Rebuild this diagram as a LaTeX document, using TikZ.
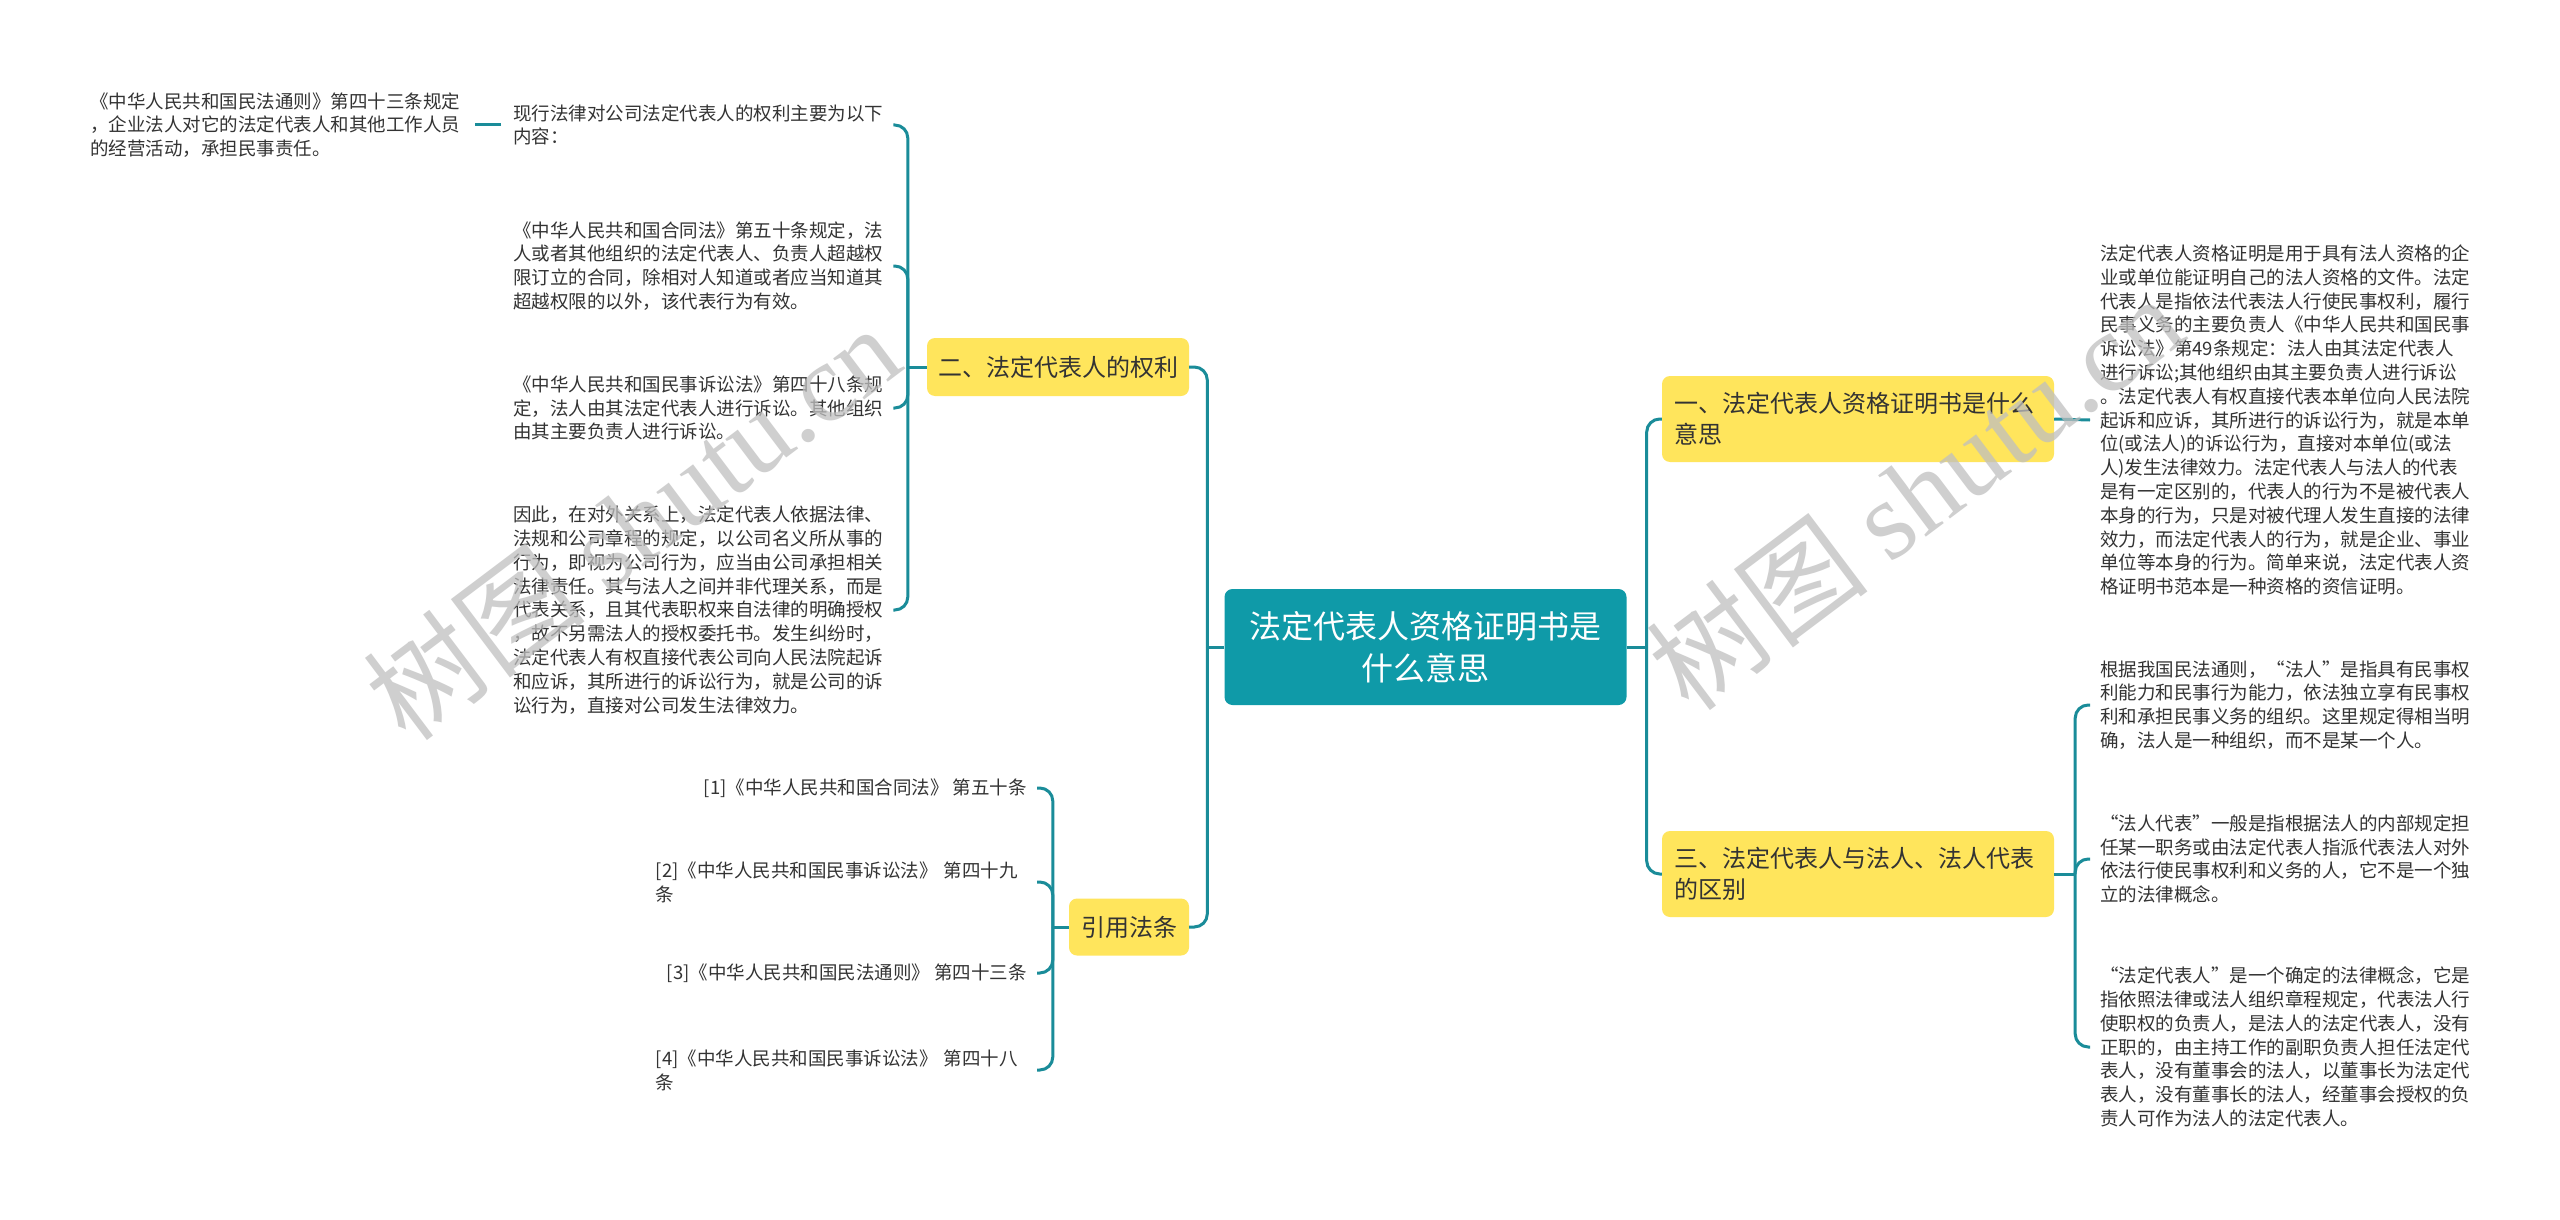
\documentclass[tikz,border=0pt]{standalone}
\usepackage{fontspec}
\setmainfont{Noto Sans CJK SC}
\newfontfamily\wmlatin{Liberation Serif}
\definecolor{rootc}{HTML}{0F9AA8}
\definecolor{lnc}{HTML}{1A8C99}
\definecolor{ylw}{HTML}{FFE55C}
\definecolor{txt}{HTML}{333333}
\definecolor{wmc}{HTML}{BFBFBF}
\tikzset{
  leaf/.style={font=\fontsize{18.5}{23.8}\selectfont, text=txt, align=left, inner sep=0pt},
  wideleaf/.style={leaf, text width=375pt},
  ybox/.style={fill=ylw, rounded corners=8pt, font=\fontsize{24}{31}\selectfont, text=txt, inner sep=0pt},
  rootbox/.style={fill=rootc, rounded corners=8pt, font=\fontsize{32}{42}\selectfont, text=white, align=center, inner sep=0pt, minimum width=402pt, minimum height=116pt},
  conn/.style={draw=lnc, line width=3pt, rounded corners=13pt},
  wm/.style={text=wmc, opacity=0.75, inner sep=0pt}
}
\begin{document}
\begin{tikzpicture}[x=1pt,y=-1pt]
\fill[white] (0,0) rectangle (2560,1220);
\useasboundingbox (0,0) rectangle (2560,1220);

% central and main boxes
\node[rootbox] (root) at (1425.5,647) {法定代表人资格证明书是\\什么意思};
\node[ybox, minimum width=392pt, minimum height=86pt, text width=368pt, align=left] (b1) at (1858,419) {一、法定代表人资格证明书是什么\\意思};
\node[ybox, minimum width=392pt, minimum height=86pt, text width=368pt, align=left] (b3) at (1858,874) {三、法定代表人与法人、法人代表\\的区别};
\node[ybox, minimum width=262pt, minimum height=58pt] (b2) at (1058,367) {二、法定代表人的权利};
\node[ybox, minimum width=120pt, minimum height=57pt] (b4) at (1129,927) {引用法条};

% left leaves of b2
\node[wideleaf, anchor=west] (gc) at (90,125) {《中华人民共和国民法通则》第四十三条规定\\，企业法人对它的法定代表人和其他工作人员\\的经营活动，承担民事责任。};
\node[wideleaf, anchor=west] (l1) at (513,125) {现行法律对公司法定代表人的权利主要为以下\\内容：};
\node[wideleaf, anchor=west] (l2) at (513,266) {《中华人民共和国合同法》第五十条规定，法\\人或者其他组织的法定代表人、负责人超越权\\限订立的合同，除相对人知道或者应当知道其\\超越权限的以外，该代表行为有效。};
\node[wideleaf, anchor=west] (l3) at (513,408) {《中华人民共和国民事诉讼法》第四十八条规\\定，法人由其法定代表人进行诉讼。其他组织\\由其主要负责人进行诉讼。};
\node[wideleaf, anchor=west] (l4) at (513,610) {因此，在对外关系上，法定代表人依据法律、\\法规和公司章程的规定，以公司名义所从事的\\行为，即视为公司行为，应当由公司承担相关\\法律责任。其与法人之间并非代理关系，而是\\代表关系，且其代表职权来自法律的明确授权\\，故不另需法人的授权委托书。发生纠纷时，\\法定代表人有权直接代表公司向人民法院起诉\\和应诉，其所进行的诉讼行为，就是公司的诉\\讼行为，直接对公司发生法律效力。};

% references of b4
\node[leaf, anchor=east] (r1) at (1027,788) {[1]《中华人民共和国合同法》 第五十条};
\node[leaf, text width=371pt, anchor=east] (r2) at (1027,882) {[2]《中华人民共和国民事诉讼法》 第四十九\\条};
\node[leaf, anchor=east] (r3) at (1027,973) {[3]《中华人民共和国民法通则》 第四十三条};
\node[leaf, text width=371pt, anchor=east] (r4) at (1027,1070) {[4]《中华人民共和国民事诉讼法》 第四十八\\条};

% right leaves
\node[wideleaf, anchor=west] (t1) at (2100,420) {法定代表人资格证明是用于具有法人资格的企\\业或单位能证明自己的法人资格的文件。法定\\代表人是指依法代表法人行使民事权利，履行\\民事义务的主要负责人《中华人民共和国民事\\诉讼法》第49条规定：法人由其法定代表人\\进行诉讼;其他组织由其主要负责人进行诉讼\\。法定代表人有权直接代表本单位向人民法院\\起诉和应诉，其所进行的诉讼行为，就是本单\\位(或法人)的诉讼行为，直接对本单位(或法\\人)发生法律效力。法定代表人与法人的代表\\是有一定区别的，代表人的行为不是被代表人\\本身的行为，只是对被代理人发生直接的法律\\效力，而法定代表人的行为，就是企业、事业\\单位等本身的行为。简单来说，法定代表人资\\格证明书范本是一种资格的资信证明。};
\node[wideleaf, anchor=west] (t2) at (2100,705) {根据我国民法通则，“法人”是指具有民事权\\利能力和民事行为能力，依法独立享有民事权\\利和承担民事义务的组织。这里规定得相当明\\确，法人是一种组织，而不是某一个人。};
\node[wideleaf, anchor=west] (t3) at (2100,859) {“法人代表”一般是指根据法人的内部规定担\\任某一职务或由法定代表人指派代表法人对外\\依法行使民事权利和义务的人，它不是一个独\\立的法律概念。};
\node[wideleaf, anchor=west] (t4) at (2100,1047) {“法定代表人”是一个确定的法律概念，它是\\指依照法律或法人组织章程规定，代表法人行\\使职权的负责人，是法人的法定代表人，没有\\正职的，由主持工作的副职负责人担任法定代\\表人，没有董事会的法人，以董事长为法定代\\表人，没有董事长的法人，经董事会授权的负\\责人可作为法人的法定代表人。};

% junctions
\coordinate (jL) at ([xshift=-17pt]root.west);
\coordinate (jR) at ([xshift=20pt]root.east);
\coordinate (j2) at ([xshift=-19pt]b2.west);
\coordinate (j4) at ([xshift=-16pt]b4.west);
\coordinate (j3) at ([xshift=21pt]b3.east);

% connectors
\draw[conn] (root.west) -- (jL);
\draw[conn] (jL) |- (b2.east);
\draw[conn] (jL) |- (b4.east);
\draw[conn] (root.east) -- (jR);
\draw[conn] (jR) |- (b1.west);
\draw[conn] (jR) |- (b3.west);

\draw[conn] (b2.west) -- (j2);
\draw[conn] (j2) |- ([xshift=5pt]l1.east);
\draw[conn] (j2) |- ([xshift=5pt]l2.east);
\draw[conn] (j2) |- ([xshift=5pt]l3.east);
\draw[conn] (j2) |- ([xshift=5pt]l4.east);
\draw[conn] ([xshift=-12pt]l1.west) -- ([xshift=10pt]gc.east);

\draw[conn] (b4.west) -- (j4);
\draw[conn] (j4) |- ([xshift=10pt]r1.east);
\draw[conn] (j4) |- ([xshift=10pt]r2.east);
\draw[conn] (j4) |- ([xshift=10pt]r3.east);
\draw[conn] (j4) |- ([xshift=10pt]r4.east);

\draw[conn] (b1.east) -- ([xshift=-10pt]t1.west);

\draw[conn] (b3.east) -- (j3);
\draw[conn] (j3) |- ([xshift=-10pt]t2.west);
\draw[conn] (j3) |- ([xshift=-10pt]t3.west);
\draw[conn] (j3) |- ([xshift=-10pt]t4.west);

% watermarks
\node[wm, rotate=37] (wm1) at (632,522) {\fontsize{112}{112}\selectfont 树图 {\wmlatin shutu.cn}};
\node[wm, rotate=37] (wm2) at (1915,492) {\fontsize{112}{112}\selectfont 树图 {\wmlatin shutu.cn}};
\end{tikzpicture}
\end{document}
